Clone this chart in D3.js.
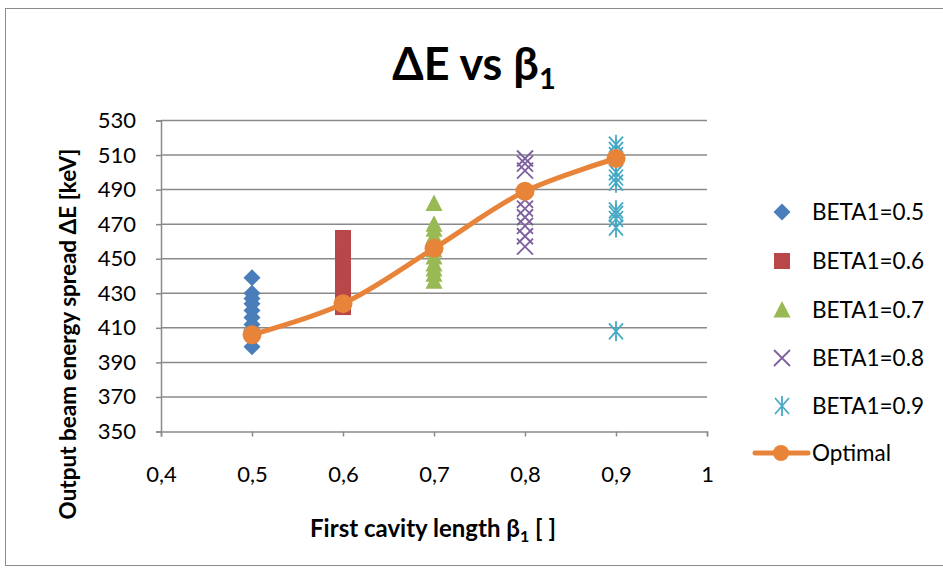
<!DOCTYPE html>
<html>
<head>
<meta charset="utf-8">
<script src="https://cdn.jsdelivr.net/npm/d3@7"></script>
<style>
  html, body { margin: 0; padding: 0; background: #fff; }
  svg { display: block; font-family: "Lato", "Open Sans", sans-serif; }
</style>
</head>
<body>
<svg id="chart" width="943" height="570"></svg>
<script>
// Output beam energy spread for each first-cavity length
const xTicks = [0.4, 0.5, 0.6, 0.7, 0.8, 0.9, 1.0];
const xTickLabels = ["0,4", "0,5", "0,6", "0,7", "0,8", "0,9", "1"];
const yTicks = [350, 370, 390, 410, 430, 450, 470, 490, 510, 530];

const beta05 = [439, 430, 427, 424, 420, 416, 412, 409, 405, 399];
const beta06 = [462, 459, 456, 453, 450, 447, 444, 441, 438, 435, 432, 429, 426, 422];
const beta07 = [482, 470, 467, 463, 459, 455, 451, 447, 444, 441, 437];
const beta08 = [508, 505, 501, 484, 479, 474, 469, 463, 457];
const beta09 = [516, 513, 510, 500, 497, 494, 478, 476, 473, 468, 408];
const optimalX = [0.5, 0.6, 0.7, 0.8, 0.9];
const optimalY = [406, 424, 456, 489, 508];

const seriesNames = ["BETA1=0.5", "BETA1=0.6", "BETA1=0.7", "BETA1=0.8", "BETA1=0.9"];
const seriesX = [0.5, 0.6, 0.7, 0.8, 0.9];
const seriesValues = [beta05, beta06, beta07, beta08, beta09];
const seriesShapes = ["diamond", "square", "triangle", "cross", "asterisk"];
const seriesColors = ["#4A7EBB", "#B8474A", "#98B954", "#7D60A0", "#46AAC5"];
const optimalColor = "#E8843A";

const svg = d3.select("#chart");

// chart frame
svg.append("rect")
  .attr("x", 5.5).attr("y", 8.5)
  .attr("width", 950).attr("height", 557)
  .attr("fill", "none").attr("stroke", "#8c8c8c").attr("stroke-width", 1);

const plot = { left: 161, right: 707, top: 120.5, bottom: 431.5 };
const x = d3.scaleLinear().domain([0.4, 1.0]).range([plot.left, plot.right]);
const y = d3.scaleLinear().domain([350, 530]).range([plot.bottom, plot.top]);

// horizontal gridlines
svg.append("g")
  .selectAll("line")
  .data(yTicks.filter(v => v !== 350))
  .join("line")
  .attr("x1", plot.left).attr("x2", plot.right)
  .attr("y1", d => y(d)).attr("y2", d => y(d))
  .attr("stroke", "#8a8a8a").attr("stroke-width", 1.5);

// y axis
const yAxis = svg.append("g")
  .attr("transform", `translate(${plot.left},0)`)
  .call(d3.axisLeft(y).tickValues(yTicks).tickSize(5).tickPadding(20).tickFormat(d3.format("d")));
yAxis.select(".domain").attr("stroke", "#8a8a8a").attr("stroke-width", 1.5);
yAxis.selectAll(".tick line").attr("stroke", "#8a8a8a").attr("stroke-width", 1.5);
yAxis.selectAll(".tick text")
  .attr("font-size", 22).attr("fill", "#000").attr("font-family", "Lato, 'Open Sans', sans-serif");

// x axis
const xAxis = svg.append("g")
  .attr("transform", `translate(0,${plot.bottom})`)
  .call(d3.axisBottom(x).tickValues(xTicks).tickSize(5).tickPadding(30)
    .tickFormat((d, i) => xTickLabels[i]));
xAxis.select(".domain").attr("stroke", "#8a8a8a").attr("stroke-width", 1.5);
xAxis.selectAll(".tick line").attr("stroke", "#8a8a8a").attr("stroke-width", 1.5);
xAxis.selectAll(".tick text")
  .attr("font-size", 22).attr("fill", "#000").attr("font-family", "Lato, 'Open Sans', sans-serif");

// marker shapes
function drawMarker(g, shape, color) {
  const s = 8.5;
  if (shape === "diamond") {
    g.append("path").attr("d", `M0,${-s}L${s},0L0,${s}L${-s},0Z`).attr("fill", color);
  } else if (shape === "square") {
    g.append("rect").attr("x", -8).attr("y", -8).attr("width", 16).attr("height", 16).attr("fill", color);
  } else if (shape === "triangle") {
    g.append("path").attr("d", `M0,${-9}L${8.5},${7.5}L${-8.5},${7.5}Z`).attr("fill", color);
  } else if (shape === "cross") {
    g.append("path").attr("d", `M-8,-8L8,8M8,-8L-8,8`).attr("stroke", color).attr("stroke-width", 1.8).attr("fill", "none");
  } else if (shape === "asterisk") {
    g.append("path").attr("d", `M-7,-8L7,8M7,-8L-7,8M0,-10L0,10`).attr("stroke", color).attr("stroke-width", 1.8).attr("fill", "none");
  }
}

// scatter series
seriesValues.forEach((vals, i) => {
  const g = svg.append("g").attr("class", "series");
  vals.forEach(v => {
    const m = g.append("g").attr("transform", `translate(${x(seriesX[i])},${y(v)})`);
    drawMarker(m, seriesShapes[i], seriesColors[i]);
  });
});

// optimal curve
const optimalPts = optimalX.map((v, i) => [v, optimalY[i]]);
const line = d3.line().x(d => x(d[0])).y(d => y(d[1])).curve(d3.curveCatmullRom.alpha(0.5));
svg.append("path")
  .datum(optimalPts)
  .attr("d", line)
  .attr("fill", "none").attr("stroke", optimalColor).attr("stroke-width", 5)
  .attr("stroke-linejoin", "round").attr("stroke-linecap", "round");
svg.append("g").selectAll("circle")
  .data(optimalPts)
  .join("circle")
  .attr("cx", d => x(d[0])).attr("cy", d => y(d[1]))
  .attr("r", 9.5).attr("fill", optimalColor);

// title
const title = svg.append("text")
  .attr("x", 474).attr("y", 80)
  .attr("text-anchor", "middle")
  .attr("font-size", 45).attr("font-weight", "bold").attr("fill", "#000");
title.append("tspan").text("ΔE vs β");
title.append("tspan").attr("font-size", 29).attr("dy", 9).text("1");

// axis titles
const xTitle = svg.append("text")
  .attr("x", 433).attr("y", 537)
  .attr("text-anchor", "middle")
  .attr("font-size", 24).attr("font-weight", "bold").attr("fill", "#000");
xTitle.append("tspan").text("First cavity length β");
xTitle.append("tspan").attr("font-size", 16).attr("dy", 5).text("1");
xTitle.append("tspan").attr("dy", -5).text(" [ ]");

svg.append("text")
  .attr("transform", "translate(76,334) rotate(-90)")
  .attr("text-anchor", "middle")
  .attr("font-size", 22.5).attr("font-weight", "bold").attr("fill", "#000")
  .text("Output beam energy spread ΔE [keV]");

// legend
const legendRows = [212, 261, 310, 358, 406];
const legend = svg.append("g");
seriesNames.forEach((name, i) => {
  const m = legend.append("g").attr("transform", `translate(782,${legendRows[i]})`);
  drawMarker(m, seriesShapes[i], seriesColors[i]);
  legend.append("text")
    .attr("x", 812).attr("y", legendRows[i]).attr("dy", "0.35em")
    .attr("font-size", 22.5).attr("fill", "#000").text(name);
});
legend.append("line")
  .attr("x1", 755).attr("x2", 808).attr("y1", 453).attr("y2", 453)
  .attr("stroke", optimalColor).attr("stroke-width", 5).attr("stroke-linecap", "round");
legend.append("circle").attr("cx", 781).attr("cy", 453).attr("r", 8).attr("fill", optimalColor);
legend.append("text")
  .attr("x", 812).attr("y", 453).attr("dy", "0.35em")
  .attr("font-size", 22.5).attr("fill", "#000").text("Optimal");
</script>
</body>
</html>
